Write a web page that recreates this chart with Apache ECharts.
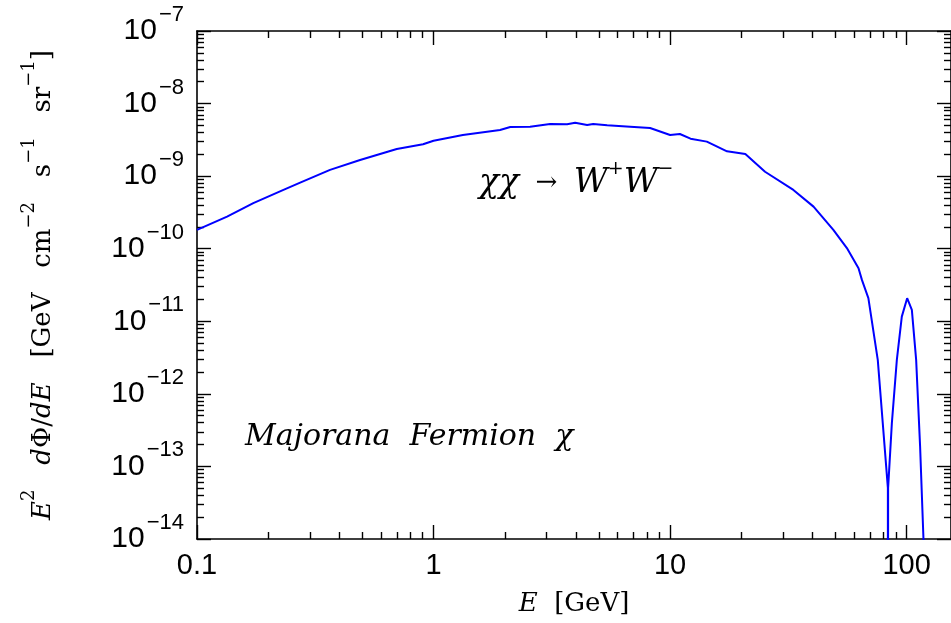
<!DOCTYPE html>
<html>
<head>
<meta charset="utf-8">
<script src="https://cdn.jsdelivr.net/npm/echarts@6/dist/echarts.min.js"></script>
<style>
html, body { margin: 0; padding: 0; background: #fff; }
#main { width: 951px; height: 623px; }
</style>
</head>
<body>
<div id="main"></div>
<script>
// Spectre E^2 dPhi/dE pour chi chi -> W+ W-
var energy = [0.1, 0.134, 0.173, 0.232, 0.273, 0.365, 0.489, 0.699, 0.903, 1.0,
	1.33, 1.91, 2.11, 2.56, 3.11, 3.67, 3.97, 4.46, 4.73, 5.42,
	6.78, 8.23, 10.0, 11.0, 12.2, 14.3, 17.4, 20.8, 25.2, 33.2,
	40.4, 49.0, 55.9, 62.6, 64.7, 68.9, 75.5, 83.3, 83.4, 83.5,
	86.6, 90.9, 95.4, 100.5, 105.2, 109.7, 114.0, 117.8, 118.2];
var flux = [1.82e-10, 2.77e-10, 4.24e-10, 6.46e-10, 8.14e-10, 1.22e-9, 1.67e-9, 2.37e-9, 2.75e-9, 3.08e-9,
	3.69e-9, 4.33e-9, 4.76e-9, 4.81e-9, 5.24e-9, 5.19e-9, 5.45e-9, 5.07e-9, 5.24e-9, 5.02e-9,
	4.81e-9, 4.61e-9, 3.69e-9, 3.81e-9, 3.28e-9, 2.99e-9, 2.20e-9, 2.02e-9, 1.15e-9, 6.46e-10,
	3.80e-10, 1.82e-10, 1.02e-10, 5.39e-11, 3.72e-11, 2.08e-11, 2.94e-12, 5.07e-14, 1e-20, 5.07e-14,
	3.95e-13, 2.94e-12, 1.16e-11, 2.08e-11, 1.44e-11, 2.94e-12, 1.88e-13, 1.0e-14, 1e-20];

// Graduations
var xMajor = [0.1, 1, 10, 100];
var yMajor = [1e-14, 1e-13, 1e-12, 1e-11, 1e-10, 1e-9, 1e-8, 1e-7];
var xMinor = [];
var yMinor = [];
for (var i = 0; i < 3; i++) {
	for (var k = 2; k <= 9; k++) {
		xMinor.push(k * xMajor[i]);
	}
}
for (var i = 0; i < yMajor.length - 1; i++) {
	for (var k = 2; k <= 9; k++) {
		yMinor.push(k * yMajor[i]);
	}
}

var X_MIN = 0.1, X_MAX = 154;
var Y_MIN = 1e-14, Y_MAX = 1e-7;

var black = '#000';
var serif = 'DejaVu Serif';
var sans = 'Liberation Sans';

// Un axe log "fantome" qui ne sert qu'a dessiner des graduations
function tickAxis(position, min, max, ticks, len, withLine) {
	return {
		type: 'log',
		position: position,
		min: min,
		max: max,
		logBase: 10,
		axisLine: { show: withLine, onZero: false, lineStyle: { color: black, width: 1.6 } },
		axisTick: { show: true, inside: true, length: len, customValues: ticks, lineStyle: { color: black, width: 1.4 } },
		axisLabel: { show: false },
		splitLine: { show: false },
		minorTick: { show: false }
	};
}

var xMain = tickAxis('bottom', X_MIN, X_MAX, xMajor, 14, true);
xMain.axisLabel = {
	show: true,
	customValues: xMajor,
	margin: 12,
	color: black,
	fontFamily: sans,
	fontSize: 29,
	formatter: function(v) {
		return v < 1 ? '0.1' : String(Math.round(v));
	}
};
xMain.name = '{i|E}{r|  [GeV]}';
xMain.nameLocation = 'middle';
xMain.nameGap = 52;
xMain.nameTextStyle = {
	rich: {
		i: { fontFamily: serif, fontStyle: 'italic', fontSize: 26, color: black },
		r: { fontFamily: serif, fontSize: 26, color: black }
	}
};

var yMain = tickAxis('left', Y_MIN, Y_MAX, yMajor, 14, true);
yMain.axisLabel = {
	show: true,
	customValues: yMajor,
	margin: 13,
	formatter: function(v) {
		var e = Math.round(Math.log10(v));
		return '{b|10}{s|\u2212' + (-e) + '}';
	},
	rich: {
		b: { fontFamily: sans, fontSize: 30, color: black, padding: [12, 0, 12, 0] },
		s: { fontFamily: sans, fontSize: 22, color: black, verticalAlign: 'top', padding: [0, 0, 0, 2] }
	}
};
yMain.name = '{i|E}{s|2}{r|   }{i|d}{r|\u03a6/}{i|dE}{r|   [GeV   cm}{s|\u22122}{r|   s}{s|\u22121}{r|   sr}{s|\u22121}{r|]}';
yMain.nameLocation = 'middle';
yMain.nameRotate = 90;
yMain.nameGap = 141;
yMain.nameTextStyle = {
	rich: {
		i: { fontFamily: serif, fontStyle: 'italic', fontSize: 26, color: black, padding: [10, 0, 0, 0] },
		r: { fontFamily: serif, fontSize: 26, color: black, padding: [10, 0, 0, 0] },
		s: { fontFamily: serif, fontSize: 18, color: black, verticalAlign: 'top' }
	}
};

var points = [];
for (var i = 0; i < energy.length; i++) {
	points.push([energy[i], flux[i]]);
}

var myChart = echarts.init(document.getElementById('main'));

var option = {
	animation: false,
	backgroundColor: '#fff',
	grid: { left: 197, top: 31, right: 0, bottom: 84, containLabel: false },
	xAxis: [
		xMain,
		tickAxis('bottom', X_MIN, X_MAX, xMinor, 7, false),
		tickAxis('top', X_MIN, X_MAX, xMajor, 14, true),
		tickAxis('top', X_MIN, X_MAX, xMinor, 7, false)
	],
	yAxis: [
		yMain,
		tickAxis('left', Y_MIN, Y_MAX, yMinor, 7, false),
		tickAxis('right', Y_MIN, Y_MAX, yMajor, 14, true),
		tickAxis('right', Y_MIN, Y_MAX, yMinor, 7, false)
	],
	graphic: [
		{
			type: 'text',
			left: 479,
			top: 160,
			style: {
				text: '{g|\u03c7\u03c7}{r|  \u2192  }{g|W}{s|+}{g|W}{s|\u2212}',
				rich: {
					g: { fontFamily: serif, fontStyle: 'italic', fontSize: 33, fill: black, padding: [7, 0, 0, 0] },
					r: { fontFamily: serif, fontSize: 26, fill: black, padding: [7, 0, 0, 0] },
					s: { fontFamily: serif, fontSize: 19, fill: black, verticalAlign: 'top' }
				}
			}
		},
		{
			type: 'text',
			left: 245,
			top: 422,
			style: {
				text: 'Majorana  Fermion  \u03c7',
				fontFamily: serif,
				fontStyle: 'italic',
				fontSize: 30,
				fill: black
			}
		}
	],
	series: [{
		type: 'line',
		xAxisIndex: 0,
		yAxisIndex: 0,
		data: points,
		showSymbol: false,
		clip: true,
		lineStyle: { color: '#0000ff', width: 2 }
	}]
};

myChart.setOption(option);
</script>
</body>
</html>
